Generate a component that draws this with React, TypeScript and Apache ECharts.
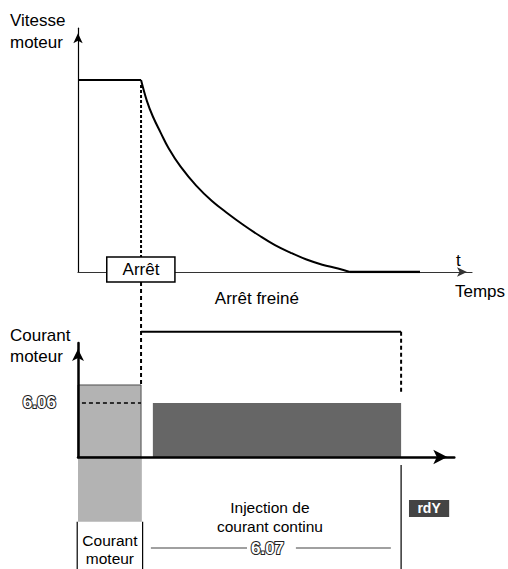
import { useEffect, useRef } from "react";
import * as echarts from "echarts";

const FONT = '"Liberation Sans", Arial, Helvetica, sans-serif';

// Motor speed (% of nominal) against time during a braked stop
const speedHoldT = [0, 16];
const speedHoldV = [100, 100];
const speedDecayT = [16, 17.5, 19, 21, 23, 26, 30, 34, 38, 42, 46, 50, 54, 58, 62, 66, 69];
const speedDecayV = [100, 89, 81, 72.5, 64.5, 55, 45, 37, 30.5, 24.5, 19, 14, 10, 6.5, 3.8, 1.8, 0];
const speedRestT = [69, 86.8];
const speedRestV = [0, 0];

// Timing (time units on the shared axis)
const stopT = 16;
const injectionStartT = 19;
const injectionEndT = 82;

// Current levels (% of motor current)
const motorCurrentLevel = 100;
const injectionLevel = 75; // parameter 6.06

// Axis extents
const timeMaxTop = 100;
const timeMaxBottom = 95.5;
const speedMax = 127;
const currentMax = 158.3;

// Segment lists: [t1, v1, t2, v2]
const topDotted = [[stopT, 97.4, stopT, 7.8]];
const bottomDotted = [
  [stopT, 243, stopT, motorCurrentLevel],
  [injectionEndT, 174, injectionEndT, 89],
];
const levelDashed = [[1, injectionLevel, stopT, injectionLevel]];
const brakeSpan = [[stopT, 174, injectionEndT, 174]];
const frameLines = [
  [injectionEndT, -11, injectionEndT, -156],
  [-0.2, -90, -0.2, -156],
  [16.4, -90, 16.4, -156],
];
const durationLines = [
  [18.5, -126.4, 42.9, -126.4],
  [55.3, -126.4, 79.4, -126.4],
];

// Rectangles: [t1, t2, v1, v2]
const motorBar = [[0, stopT, 0, motorCurrentLevel]];
const motorBarBelow = [[0, 16.2, 0, -90]];
const injectionBar = [[injectionStartT, injectionEndT, 0, injectionLevel]];
const stopBox = [[7.3, 24.6, -5.2, 7.8]];
const readyBox = [[84, 94.2, -59.7, -83.3]];

// Text annotations
const topLabels = ["Arrêt", "Arrêt freiné"];
const topLabelPos = [[stopT, 1.3], [45.4, -14]];
const plainLabels = ["Injection de", "courant continu", "Courant", "moteur"];
const plainLabelPos = [[48.7, -70.8], [48.7, -97.2], [8.1, -115.3], [8.1, -140.3]];
const paramLabels = ["6.06", "6.07"];
const paramLabelPos = [[-9.8, injectionLevel], [48.1, -126.4]];
const readyLabel = ["rdY"];
const readyLabelPos = [[89.1, -71.5]];

const segmentSeries = (
  gridIdx: number,
  data: number[][],
  stroke: string,
  lineWidth: number,
  lineDash: number[] | null,
  z = 3
) => ({
  type: "custom",
  xAxisIndex: gridIdx,
  yAxisIndex: gridIdx,
  z,
  silent: true,
  data,
  renderItem: (_p: any, api: any) => {
    const a = api.coord([api.value(0), api.value(1)]);
    const b = api.coord([api.value(2), api.value(3)]);
    return {
      type: "line",
      shape: { x1: a[0], y1: a[1], x2: b[0], y2: b[1] },
      style: { stroke, lineWidth, lineDash: lineDash || undefined, fill: null },
    };
  },
});

const rectSeries = (
  gridIdx: number,
  data: number[][],
  fill: string,
  stroke: string | null,
  lineWidth: number,
  z = 2
) => ({
  type: "custom",
  xAxisIndex: gridIdx,
  yAxisIndex: gridIdx,
  z,
  silent: true,
  data,
  renderItem: (_p: any, api: any) => {
    const a = api.coord([api.value(0), api.value(2)]);
    const b = api.coord([api.value(1), api.value(3)]);
    return {
      type: "rect",
      shape: {
        x: Math.min(a[0], b[0]),
        y: Math.min(a[1], b[1]),
        width: Math.abs(b[0] - a[0]),
        height: Math.abs(b[1] - a[1]),
      },
      style: { fill, stroke: stroke || undefined, lineWidth: stroke ? lineWidth : 0 },
    };
  },
});

const textSeries = (
  gridIdx: number,
  texts: string[],
  pos: number[][],
  style: Record<string, any>,
  z = 6
) => ({
  type: "custom",
  xAxisIndex: gridIdx,
  yAxisIndex: gridIdx,
  z,
  silent: true,
  data: pos,
  renderItem: (p: any, api: any) => {
    const c = api.coord([api.value(0), api.value(1)]);
    return {
      type: "text",
      x: c[0],
      y: c[1],
      style: {
        text: texts[p.dataIndex],
        align: "center",
        verticalAlign: "middle",
        ...style,
      },
    };
  },
});

const pairs = (xs: number[], ys: number[]) => xs.map((x, i) => [x, ys[i]]);

export default function App() {
  const ref = useRef<HTMLDivElement>(null);

  useEffect(() => {
    if (!ref.current) return;
    const chart = echarts.init(ref.current, null, { renderer: "svg" });

    const hiddenBits = {
      axisTick: { show: false },
      axisLabel: { show: false },
      splitLine: { show: false },
    };

    chart.setOption({
      animation: false,
      backgroundColor: "#ffffff",
      grid: [
        { left: 78, right: 36, top: 28.2, bottom: 297 },
        { left: 78, right: 53.7, top: 343, bottom: 112 },
      ],
      xAxis: [
        {
          type: "value",
          gridIndex: 0,
          min: 0,
          max: timeMaxTop,
          ...hiddenBits,
          axisLine: {
            show: true,
            symbol: ["none", "arrow"],
            symbolSize: [7, 10],
            symbolOffset: [0, -5],
            lineStyle: { color: "#333", width: 1.2 },
          },
        },
        {
          type: "value",
          gridIndex: 1,
          min: 0,
          max: timeMaxBottom,
          z: 5,
          ...hiddenBits,
          axisLine: {
            show: true,
            symbol: ["none", "arrow"],
            symbolSize: [11, 14],
            symbolOffset: [0, -7],
            lineStyle: { color: "#000", width: 2.5 },
          },
        },
      ],
      yAxis: [
        {
          type: "value",
          gridIndex: 0,
          min: 0,
          max: speedMax,
          ...hiddenBits,
          axisLine: {
            show: true,
            symbol: ["none", "arrow"],
            symbolSize: [7, 10],
            symbolOffset: [0, -5],
            lineStyle: { color: "#000", width: 1.2 },
          },
        },
        {
          type: "value",
          gridIndex: 1,
          min: 0,
          max: currentMax,
          z: 5,
          ...hiddenBits,
          axisLine: {
            show: true,
            symbol: ["none", "arrow"],
            symbolSize: [9, 12],
            symbolOffset: [0, -6],
            lineStyle: { color: "#000", width: 2.5 },
          },
        },
      ],
      graphic: [
        {
          type: "text",
          left: 10,
          top: 9,
          style: {
            text: "Vitesse\nmoteur",
            font: `17px ${FONT}`,
            lineHeight: 22,
            fill: "#000",
          },
        },
        {
          type: "text",
          left: 10,
          top: 325,
          style: {
            text: "Courant\nmoteur",
            font: `17px ${FONT}`,
            lineHeight: 21,
            fill: "#000",
          },
        },
        {
          type: "text",
          left: 456,
          top: 252,
          style: { text: "t", font: `17px ${FONT}`, fill: "#000" },
        },
        {
          type: "text",
          left: 455,
          top: 283,
          style: { text: "Temps", font: `17px ${FONT}`, fill: "#000" },
        },
      ],
      series: [
        // speed trace
        {
          type: "line",
          xAxisIndex: 0,
          yAxisIndex: 0,
          z: 3,
          symbol: "none",
          silent: true,
          data: pairs(speedHoldT, speedHoldV),
          lineStyle: { color: "#000", width: 2 },
        },
        {
          type: "line",
          xAxisIndex: 0,
          yAxisIndex: 0,
          z: 3,
          symbol: "none",
          smooth: 0.4,
          silent: true,
          data: pairs(speedDecayT, speedDecayV),
          lineStyle: { color: "#000", width: 2 },
        },
        {
          type: "line",
          xAxisIndex: 0,
          yAxisIndex: 0,
          z: 3,
          symbol: "none",
          silent: true,
          data: pairs(speedRestT, speedRestV),
          lineStyle: { color: "#000", width: 2.5 },
        },
        segmentSeries(0, topDotted, "#000", 2, [3, 2]),
        rectSeries(0, stopBox, "#ffffff", "#000", 1.5, 4),
        textSeries(0, topLabels, topLabelPos, { font: `17px ${FONT}`, fill: "#000" }),

        // current trace
        rectSeries(1, motorBar, "#b3b3b3", "#4d4d4d", 1),
        rectSeries(1, motorBarBelow, "#b3b3b3", null, 0),
        rectSeries(1, injectionBar, "#666666", null, 0),
        rectSeries(1, readyBox, "#444444", null, 0),
        segmentSeries(1, bottomDotted, "#000", 2, [4, 3]),
        segmentSeries(1, levelDashed, "#000", 1.5, [4, 3]),
        segmentSeries(1, brakeSpan, "#000", 2, null),
        segmentSeries(1, frameLines, "#000", 1.2, null),
        segmentSeries(1, durationLines, "#808080", 1.5, null),
        textSeries(1, plainLabels, plainLabelPos, { font: `15.5px ${FONT}`, fill: "#000" }),
        // parameter codes: dark outline underneath, white glyphs on top
        textSeries(
          1,
          paramLabels,
          paramLabelPos,
          { font: `bold 17px ${FONT}`, fill: "#222", stroke: "#222", lineWidth: 2 },
          6
        ),
        textSeries(1, paramLabels, paramLabelPos, { font: `bold 17px ${FONT}`, fill: "#ffffff" }, 7),
        textSeries(1, readyLabel, readyLabelPos, { font: `bold 14px ${FONT}`, fill: "#ffffff" }),
      ],
    });

    return () => chart.dispose();
  }, []);

  return (
    <div
      ref={ref}
      style={{ position: "fixed", left: 0, top: 0, width: 508, height: 569 }}
    />
  );
}
